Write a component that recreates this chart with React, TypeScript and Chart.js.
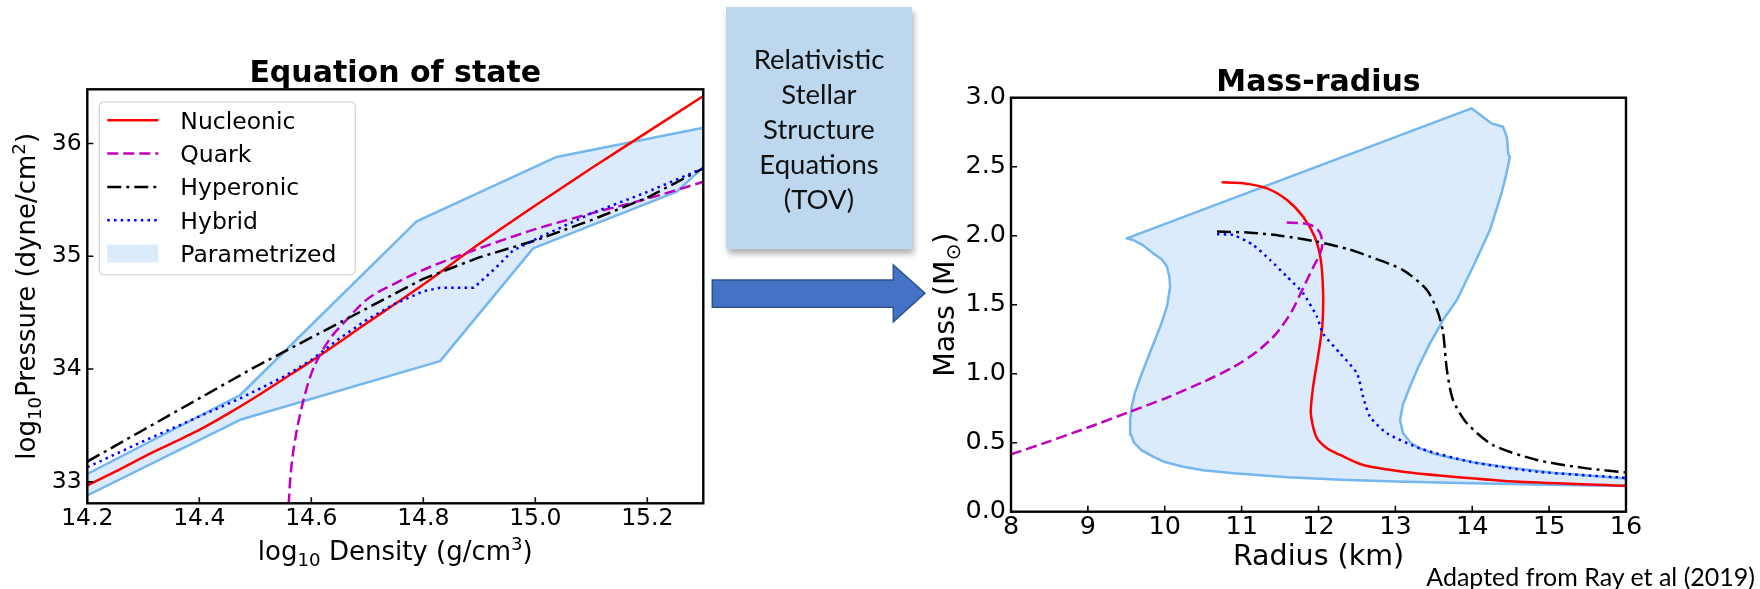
import React, { useEffect, useRef } from 'react';
import { Chart, registerables } from 'chart.js';

Chart.register(...registerables);

const FONT = 'DejaVu Sans';
const RED = '#ff0000';
const MAGENTA = '#bf00bf';
const BLACK = '#000000';
const BLUE = '#0000ff';
const BAND_FILL = 'rgba(200,225,250,0.65)';
const BAND_EDGE = '#74b6f0';
const LW = 2.5;

// ---------- Equation of state: log10 density vs log10 pressure ----------
const EOS_X_TICKS = [14.2, 14.4, 14.6, 14.8, 15.0, 15.2];
const EOS_Y_TICKS = [33, 34, 35, 36];

const eosNucleonic: [number, number][] = [
  [14.2, 32.97], [14.25, 33.09], [14.3, 33.22], [14.35, 33.34], [14.4, 33.46],
  [14.45, 33.6], [14.5, 33.75], [14.55, 33.91], [14.6, 34.07], [14.7, 34.41],
  [14.8, 34.75], [14.9, 35.11], [15.0, 35.45], [15.1, 35.78], [15.2, 36.1], [15.3, 36.42],
];
const eosQuark: [number, number][] = [
  [14.5596, 32.8], [14.562, 33.0], [14.566, 33.2], [14.572, 33.4], [14.58, 33.6],
  [14.59, 33.8], [14.6, 33.96], [14.615, 34.12], [14.635, 34.28], [14.66, 34.42],
  [14.7, 34.62], [14.75, 34.76], [14.8, 34.88], [14.9, 35.07], [15.0, 35.24],
  [15.1, 35.38], [15.2, 35.51], [15.3, 35.66],
];
const eosHyperonic: [number, number][] = [
  [14.2, 33.18], [14.3, 33.46], [14.4, 33.74], [14.5, 34.02], [14.6, 34.28],
  [14.7, 34.54], [14.8, 34.8], [14.9, 34.99], [15.0, 35.14], [15.1, 35.32],
  [15.2, 35.52], [15.3, 35.78],
];
const eosHybrid: [number, number][] = [
  [14.2, 33.13], [14.3, 33.36], [14.4, 33.58], [14.473, 33.74], [14.55, 33.93],
  [14.6, 34.08], [14.65, 34.27], [14.7, 34.44], [14.75, 34.58], [14.8, 34.69],
  [14.83, 34.72], [14.89, 34.72], [14.93, 34.9], [14.96, 35.05], [15.0, 35.15],
  [15.1, 35.38], [15.2, 35.57], [15.3, 35.78],
];
const eosBandUpper: [number, number][] = [
  [14.2, 33.07], [14.473, 33.77], [14.788, 35.31], [15.038, 35.88], [15.3, 36.14],
];
const eosBandLower: [number, number][] = [
  [14.2, 32.88], [14.473, 33.55], [14.83, 34.07], [14.996, 35.07], [15.252, 35.57], [15.3, 35.79],
];

// ---------- Mass-radius ----------
const MR_X_TICKS = [8, 9, 10, 11, 12, 13, 14, 15, 16];
const MR_Y_TICKS = [0, 0.5, 1.0, 1.5, 2.0, 2.5, 3.0];

const mrNucleonic: [number, number][] = [
  [10.74, 2.387], [11.02, 2.38], [11.33, 2.343], [11.59, 2.259], [11.8, 2.138],
  [11.95, 1.993], [12.03, 1.824], [12.06, 1.583], [12.05, 1.35], [12.0, 1.148],
  [11.93, 0.906], [11.9, 0.713], [11.97, 0.543], [12.11, 0.459], [12.28, 0.411],
  [12.58, 0.338], [13.1, 0.29], [13.75, 0.254], [14.62, 0.217], [16.0, 0.188],
];
const mrQuark: [number, number][] = [
  [8.0, 0.415], [8.5, 0.51], [9.0, 0.61], [9.55, 0.725], [10.0, 0.82], [10.5, 0.94],
  [10.9, 1.05], [11.2, 1.16], [11.45, 1.29], [11.65, 1.45], [11.8, 1.62], [11.93, 1.77],
  [12.02, 1.87], [12.05, 1.94], [12.02, 2.02], [11.93, 2.07], [11.8, 2.09], [11.58, 2.095],
];
const mrHyperonic: [number, number][] = [
  [10.68, 2.03], [11.11, 2.022], [11.5, 2.0], [11.98, 1.957], [12.4, 1.9], [12.67, 1.848],
  [13.1, 1.751], [13.41, 1.607], [13.55, 1.45], [13.62, 1.3], [13.67, 1.027],
  [13.75, 0.809], [13.93, 0.641], [14.27, 0.483], [14.84, 0.375], [15.49, 0.314], [16.0, 0.285],
];
const mrHybrid: [number, number][] = [
  [10.68, 2.01], [10.89, 2.005], [11.15, 1.933], [11.37, 1.824], [11.59, 1.703],
  [11.8, 1.583], [11.98, 1.413], [12.06, 1.29], [12.28, 1.148], [12.5, 1.003],
  [12.58, 0.833], [12.67, 0.688], [12.89, 0.568], [13.32, 0.459], [13.97, 0.362],
  [14.84, 0.29], [16.0, 0.245],
];
const mrBand: [number, number][] = [
  [16.0, 0.186], [15.0, 0.195], [14.0, 0.206], [13.0, 0.218], [12.3, 0.232], [11.6, 0.25],
  [10.9, 0.278], [10.5, 0.3], [10.24, 0.326], [10.0, 0.36], [9.85, 0.399], [9.7, 0.445],
  [9.6, 0.5], [9.56, 0.56], [9.55, 0.664], [9.57, 0.76], [9.61, 0.858], [9.68, 0.97],
  [9.77, 1.099], [9.87, 1.24], [9.96, 1.37], [10.03, 1.49], [10.07, 1.63], [10.06, 1.7],
  [10.03, 1.775], [9.96, 1.83], [9.85, 1.872], [9.72, 1.93], [9.59, 1.969], [9.505, 1.981],
  [13.99, 2.923], [14.12, 2.87], [14.25, 2.814], [14.4, 2.79], [14.45, 2.717], [14.47, 2.585],
  [14.49, 2.573], [14.44, 2.44], [14.38, 2.307], [14.23, 2.041], [14.01, 1.775], [13.8, 1.534],
  [13.62, 1.389], [13.45, 1.22], [13.3, 1.05], [13.19, 0.906], [13.1, 0.78], [13.06, 0.664],
  [13.1, 0.568], [13.2, 0.5], [13.32, 0.459], [13.5, 0.42], [13.75, 0.387], [14.05, 0.355],
  [14.4, 0.326], [15.05, 0.283], [15.5, 0.262], [16.0, 0.24],
];

const xy = (pts: [number, number][]) => pts.map(([x, y]) => ({ x, y }));

const STYLE = {
  nucleonic: { borderColor: RED, borderDash: [] as number[] },
  quark: { borderColor: MAGENTA, borderDash: [11, 5] },
  hyperonic: { borderColor: BLACK, borderDash: [14, 5, 3, 5] },
  hybrid: { borderColor: BLUE, borderDash: [2.5, 4.2] },
};

const LEGEND = [
  { label: 'Nucleonic', kind: 'line', ...STYLE.nucleonic },
  { label: 'Quark', kind: 'line', ...STYLE.quark },
  { label: 'Hyperonic', kind: 'line', ...STYLE.hyperonic },
  { label: 'Hybrid', kind: 'line', ...STYLE.hybrid },
  { label: 'Parametrized', kind: 'patch', borderColor: BAND_FILL, borderDash: [] as number[] },
];

type Seg = { t: string; s?: number; dy?: number };

function richText(ctx: CanvasRenderingContext2D, segs: Seg[], x: number, y: number,
  size: number, weight: string, rotate: boolean) {
  ctx.save();
  ctx.translate(x, y);
  if (rotate) ctx.rotate(-Math.PI / 2);
  ctx.textBaseline = 'alphabetic';
  ctx.textAlign = 'left';
  ctx.fillStyle = '#000';
  const fontOf = (sg: Seg) => `${weight} ${size * (sg.s ?? 1)}px "${FONT}"`;
  let total = 0;
  const widths = segs.map((sg) => {
    ctx.font = fontOf(sg);
    const w = ctx.measureText(sg.t).width;
    total += w;
    return w;
  });
  let cx = -total / 2;
  segs.forEach((sg, i) => {
    ctx.font = fontOf(sg);
    ctx.fillText(sg.t, cx, (sg.dy ?? 0) * size);
    cx += widths[i];
  });
  ctx.restore();
}

type DecoOpts = {
  title: string;
  titleSize: number;
  titleGap: number;
  axisTitleSize: number;
  xTitle: Seg[];
  xTitleGap: number;
  yTitle: Seg[];
  yTitleGap: number;
  legend?: boolean;
};

function decorations(o: DecoOpts) {
  return {
    id: 'decorations',
    afterDraw(chart: any) {
      const { ctx, chartArea: a, scales } = chart;
      ctx.save();
      // inward tick marks
      ctx.strokeStyle = '#000';
      ctx.lineWidth = 1.6;
      ctx.setLineDash([]);
      ctx.beginPath();
      for (const t of scales.x.ticks) {
        const px = scales.x.getPixelForValue(t.value);
        ctx.moveTo(px, a.bottom);
        ctx.lineTo(px, a.bottom - 6);
      }
      for (const t of scales.y.ticks) {
        const py = scales.y.getPixelForValue(t.value);
        ctx.moveTo(a.left, py);
        ctx.lineTo(a.left + 6, py);
      }
      ctx.stroke();
      // axes frame
      ctx.lineWidth = 2.4;
      ctx.strokeRect(a.left, a.top, a.right - a.left, a.bottom - a.top);

      const cx = (a.left + a.right) / 2;
      const cy = (a.top + a.bottom) / 2;
      richText(ctx, [{ t: o.title }], cx, a.top - o.titleGap, o.titleSize, 'bold', false);
      richText(ctx, o.xTitle, cx, a.bottom + o.xTitleGap, o.axisTitleSize, 'normal', false);
      richText(ctx, o.yTitle, a.left - o.yTitleGap, cy, o.axisTitleSize, 'normal', true);

      if (o.legend) {
        const lx = a.left + 12, ly = a.top + 12.5, lw = 256, lh = 173;
        ctx.beginPath();
        ctx.roundRect(lx, ly, lw, lh, 5);
        ctx.fillStyle = 'rgba(255,255,255,0.85)';
        ctx.fill();
        ctx.strokeStyle = '#d4d4d4';
        ctx.lineWidth = 1.3;
        ctx.stroke();
        LEGEND.forEach((item, i) => {
          const yy = ly + 18.5 + i * 33.3;
          const hx = lx + 8, hw = 51;
          if (item.kind === 'line') {
            ctx.strokeStyle = item.borderColor;
            ctx.lineWidth = LW;
            ctx.setLineDash(item.borderDash);
            ctx.beginPath();
            ctx.moveTo(hx, yy);
            ctx.lineTo(hx + hw, yy);
            ctx.stroke();
            ctx.setLineDash([]);
          } else {
            ctx.fillStyle = BAND_FILL;
            ctx.fillRect(hx, yy - 9, hw, 18);
          }
          ctx.fillStyle = '#000';
          ctx.font = `23.5px "${FONT}"`;
          ctx.textAlign = 'left';
          ctx.textBaseline = 'alphabetic';
          ctx.fillText(item.label, lx + 81, yy + 8.5);
        });
      }
      ctx.restore();
    },
  };
}

function axis(min: number, max: number, ticks: number[], fmt: (v: number) => string,
  size: number, pad: number, fit: { width?: number; height?: number }) {
  return {
    type: 'linear',
    min,
    max,
    grid: { display: false, drawTicks: false },
    border: { display: false },
    afterBuildTicks: (s: any) => { s.ticks = ticks.map((v) => ({ value: v })); },
    afterFit: (s: any) => {
      if (fit.width != null) s.width = fit.width;
      if (fit.height != null) s.height = fit.height;
    },
    ticks: {
      font: { family: FONT, size },
      color: '#000',
      padding: pad,
      maxRotation: 0,
      autoSkip: false,
      callback: (v: any) => fmt(Number(v)),
    },
  };
}

const line = (data: [number, number][], style: { borderColor: string; borderDash: number[] },
  order: number, extra: any = {}) => ({
  data: xy(data),
  showLine: true,
  pointRadius: 0,
  borderWidth: LW,
  borderColor: style.borderColor,
  borderDash: style.borderDash,
  borderJoinStyle: 'round',
  fill: false,
  tension: 0,
  order,
  ...extra,
});

function eosConfig(): any {
  const bandPolygon = [...eosBandUpper, ...[...eosBandLower].reverse()];
  return {
    type: 'scatter',
    data: {
      datasets: [
        line(eosNucleonic, STYLE.nucleonic, 4, { cubicInterpolationMode: 'monotone' }),
        line(eosQuark, STYLE.quark, 3, { cubicInterpolationMode: 'monotone' }),
        line(eosHyperonic, STYLE.hyperonic, 2),
        line(eosHybrid, STYLE.hybrid, 1),
        {
          data: xy(bandPolygon), showLine: true, pointRadius: 0, borderWidth: 0,
          borderColor: 'rgba(0,0,0,0)', backgroundColor: BAND_FILL, fill: 'shape', order: 10,
        },
        line(eosBandUpper, { borderColor: BAND_EDGE, borderDash: [] }, 9),
        line(eosBandLower, { borderColor: BAND_EDGE, borderDash: [] }, 9),
      ],
    },
    options: {
      animation: false,
      responsive: false,
      maintainAspectRatio: false,
      events: [],
      layout: { padding: { left: 0, right: 16.7, top: 89.3, bottom: 0 } },
      plugins: { legend: { display: false }, tooltip: { enabled: false }, title: { display: false } },
      scales: {
        x: axis(14.2, 15.3, EOS_X_TICKS, (v) => v.toFixed(1), 23.5, 1, { height: 85.7 }),
        y: axis(32.81, 36.48, EOS_Y_TICKS, (v) => String(v), 23.5, 5.6, { width: 87.3 }),
      },
    },
    plugins: [decorations({
      title: 'Equation of state',
      titleSize: 30,
      titleGap: 7.6,
      axisTitleSize: 26,
      xTitle: [{ t: 'log' }, { t: '10', s: 0.7, dy: 0.22 }, { t: ' Density (g/cm' }, { t: '3', s: 0.7, dy: -0.38 }, { t: ')' }],
      xTitleGap: 56.7,
      yTitle: [{ t: 'log' }, { t: '10', s: 0.7, dy: 0.22 }, { t: 'Pressure (dyne/cm' }, { t: '2', s: 0.7, dy: -0.38 }, { t: ')' }],
      yTitleGap: 52.3,
      legend: true,
    })],
  };
}

function mrConfig(): any {
  return {
    type: 'scatter',
    data: {
      datasets: [
        line(mrNucleonic, STYLE.nucleonic, 4, { tension: 0.25 }),
        line(mrQuark, STYLE.quark, 3, { tension: 0.25 }),
        line(mrHyperonic, STYLE.hyperonic, 2, { tension: 0.25 }),
        line(mrHybrid, STYLE.hybrid, 1, { tension: 0.2 }),
        {
          data: xy(mrBand), showLine: true, pointRadius: 0, borderWidth: LW,
          borderColor: BAND_EDGE, backgroundColor: BAND_FILL, fill: 'shape', order: 10,
          tension: 0, borderJoinStyle: 'round',
        },
      ],
    },
    options: {
      animation: false,
      responsive: false,
      maintainAspectRatio: false,
      events: [],
      layout: { padding: { left: 0, right: 34, top: 97.7, bottom: 0 } },
      plugins: { legend: { display: false }, tooltip: { enabled: false }, title: { display: false } },
      scales: {
        x: axis(8, 16, MR_X_TICKS, (v) => String(v), 25.5, 0, { height: 77.3 }),
        y: axis(0, 3, MR_Y_TICKS, (v) => v.toFixed(1), 25.5, 5, { width: 86 }),
      },
    },
    plugins: [decorations({
      title: 'Mass-radius',
      titleSize: 30,
      titleGap: 7,
      axisTitleSize: 28.5,
      xTitle: [{ t: 'Radius (km)' }],
      xTitleGap: 53.5,
      yTitle: [{ t: 'Mass (M' }, { t: '⊙', s: 0.7, dy: 0.22 }, { t: ')' }],
      yTitleGap: 57,
    })],
  };
}

export default function App() {
  const eosRef = useRef<HTMLCanvasElement>(null);
  const mrRef = useRef<HTMLCanvasElement>(null);

  useEffect(() => {
    const eos = new Chart(eosRef.current as HTMLCanvasElement, eosConfig());
    const mr = new Chart(mrRef.current as HTMLCanvasElement, mrConfig());
    return () => {
      eos.destroy();
      mr.destroy();
    };
  }, []);

  return (
    <div style={{ position: 'fixed', left: 0, top: 0, width: 1760, height: 589, background: '#fff', overflow: 'hidden' }}>
      <canvas ref={eosRef} width={720} height={589}
        style={{ position: 'absolute', left: 0, top: 0, width: 720, height: 589 }} />
      <div style={{
        position: 'absolute', left: 726, top: 7, width: 186, height: 242,
        background: '#bdd7ee', boxShadow: '2px 5px 6px rgba(0,0,0,0.3)',
        display: 'flex', flexDirection: 'column', justifyContent: 'center', alignItems: 'center',
        fontFamily: 'Lato, "Open Sans", sans-serif', fontSize: 27.5, lineHeight: '35px', color: '#111',
        textAlign: 'center',
      }}>
        <div>Relativistic</div>
        <div>Stellar</div>
        <div>Structure</div>
        <div>Equations</div>
        <div>(TOV)</div>
      </div>
      <svg width={240} height={80} style={{ position: 'absolute', left: 700, top: 255 }}>
        <polygon points="12.3,25 193.3,25 193.3,10 225,38.3 193.3,66.7 193.3,52.3 12.3,52.3"
          fill="#4472c4" stroke="#2f528f" strokeWidth={1.5} />
      </svg>
      <canvas ref={mrRef} width={735} height={589}
        style={{ position: 'absolute', left: 925, top: 0, width: 735, height: 589 }} />
      <div style={{
        position: 'absolute', right: 5, top: 561, height: 31, lineHeight: '31px',
        fontFamily: 'Lato, "Open Sans", sans-serif', fontSize: 25, color: '#000', whiteSpace: 'nowrap',
      }}>
        Adapted from Ray et al (2019)
      </div>
    </div>
  );
}
